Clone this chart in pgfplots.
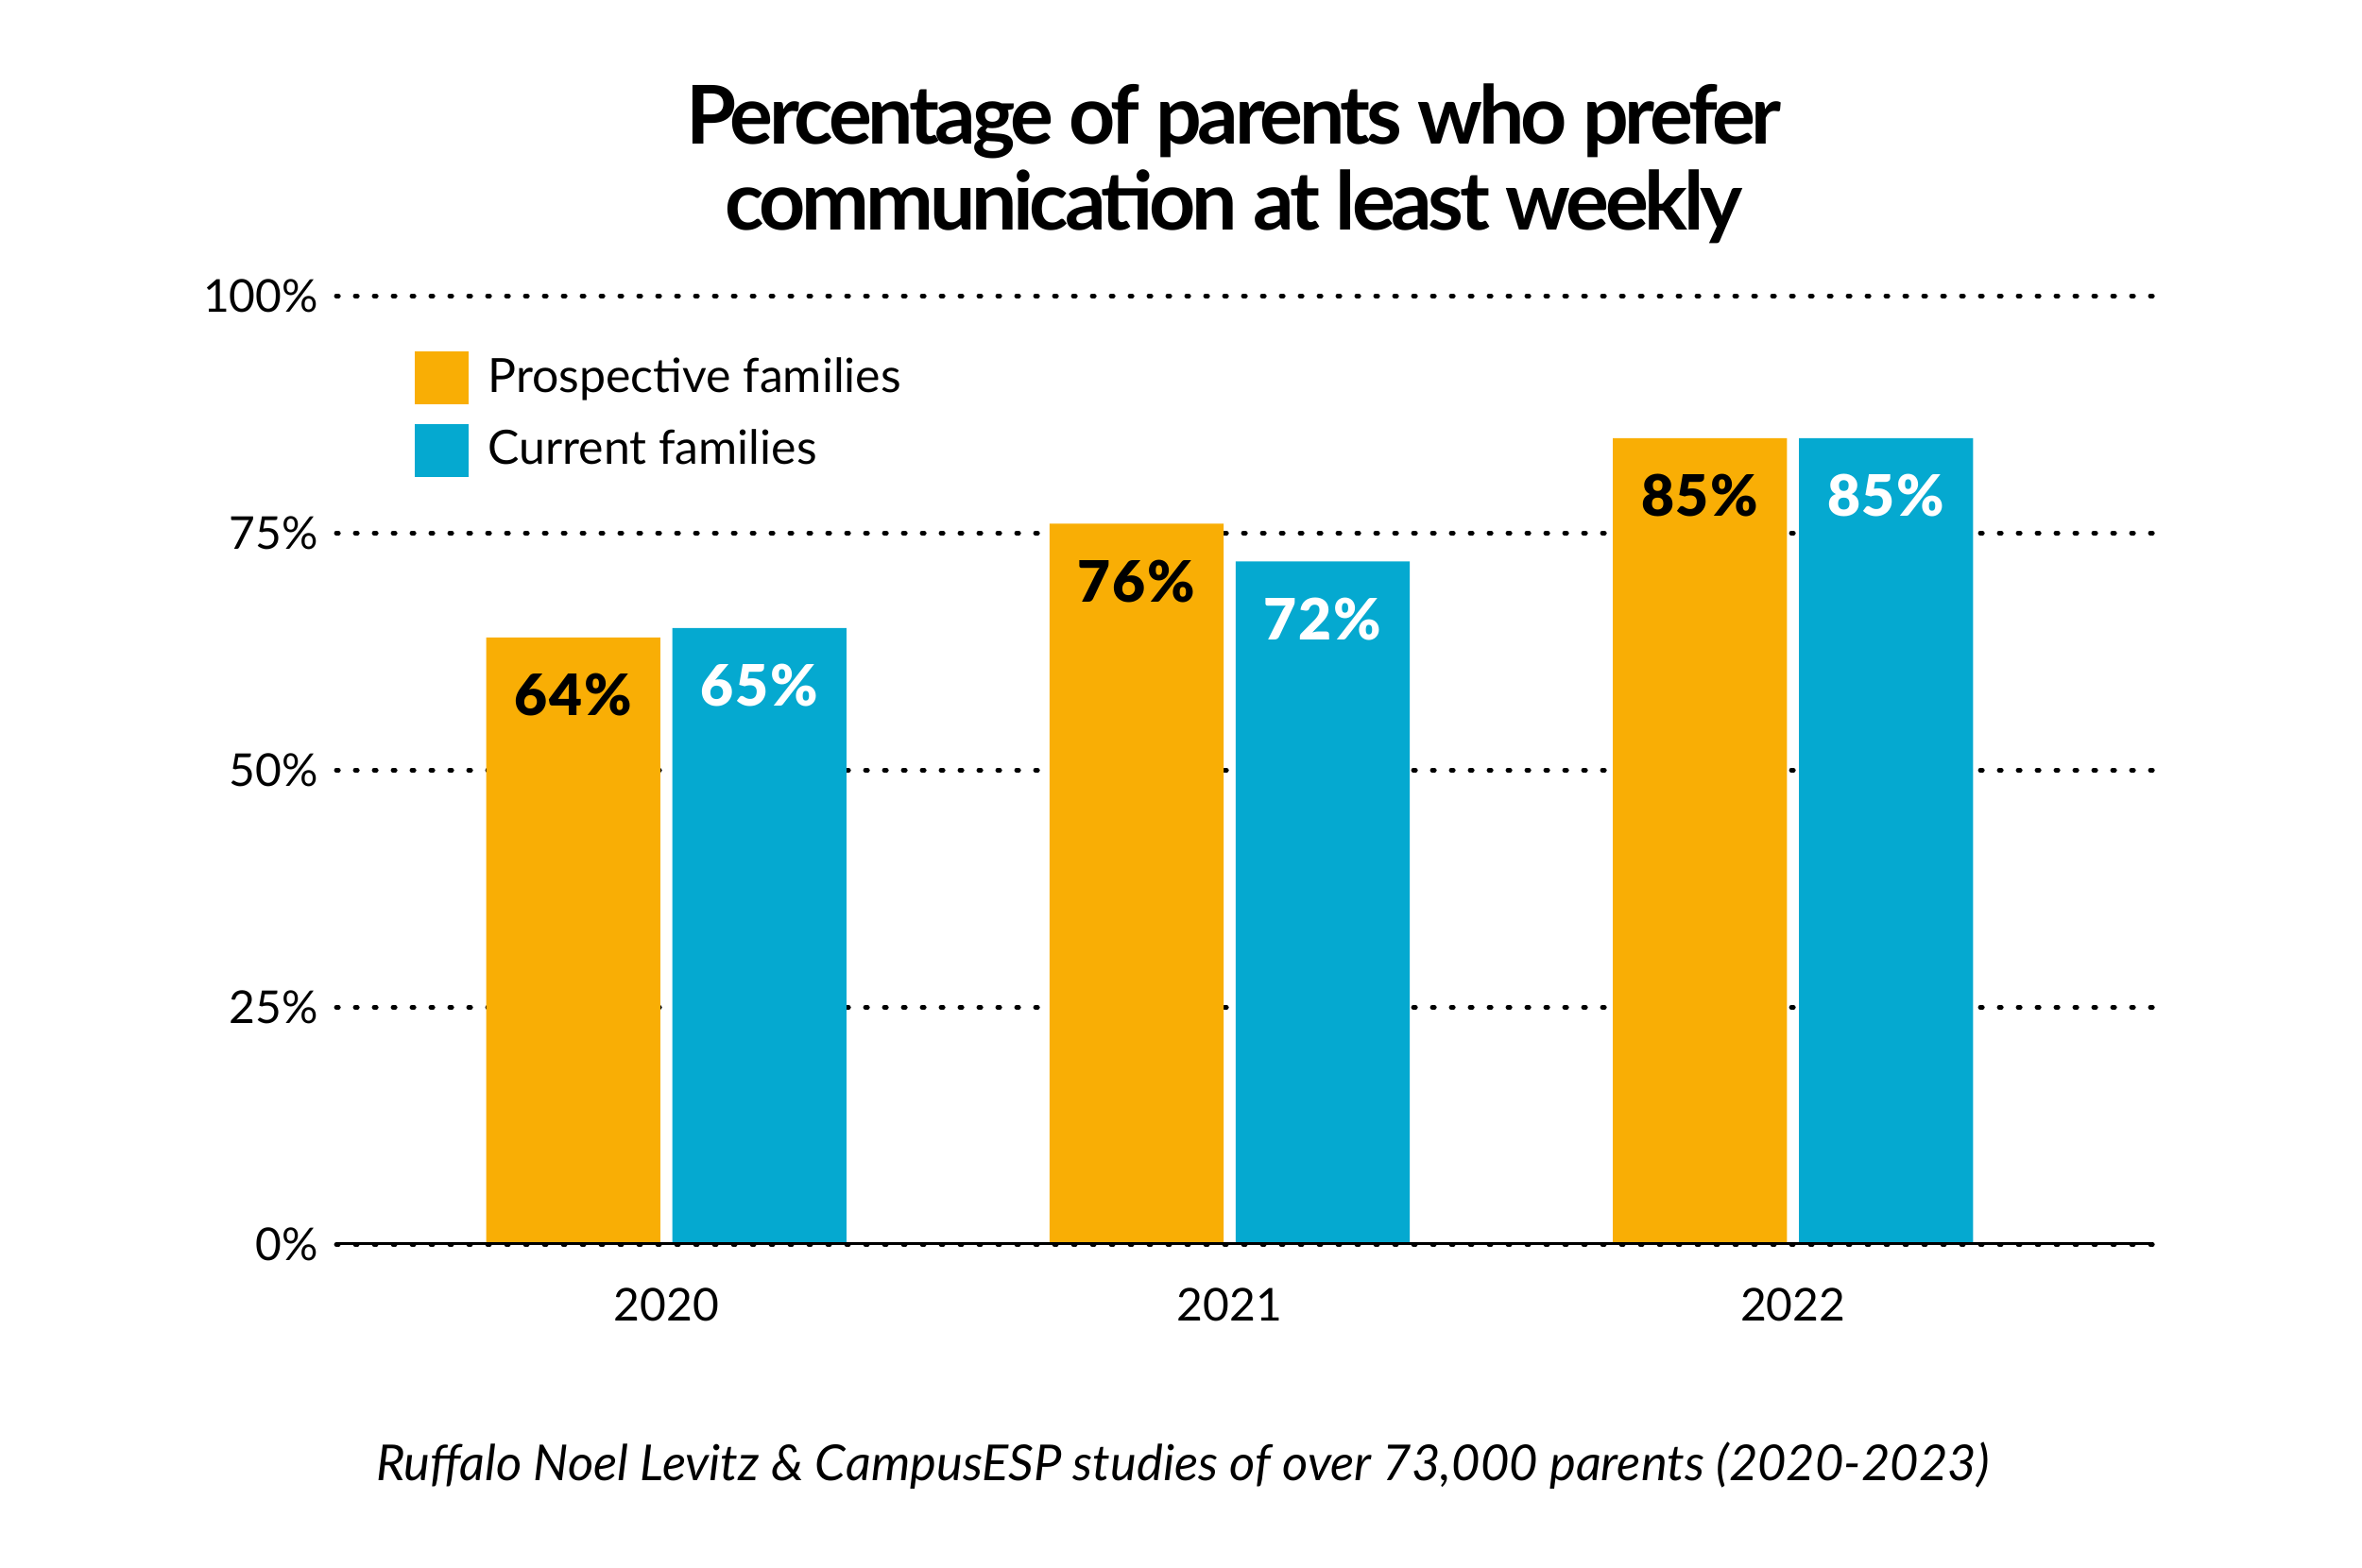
\documentclass[border=0pt]{standalone}
\usepackage{fontspec}
\setmainfont{Lato}
\newfontfamily\titlefont[LetterSpace=-5]{Lato Bold}
\newfontfamily\barfont[LetterSpace=3]{Lato Black}
\usepackage{pgfplots}
\pgfplotsset{compat=1.18}

\definecolor{prosp}{HTML}{F9AE05}
\definecolor{curr}{HTML}{05A9D0}

\begin{document}
\begin{tikzpicture}
% page frame: axis origin sits 85.4pt from the left, 82.2pt from the bottom
\path[use as bounding box] (-85.4pt,-82.2pt) rectangle ++(600pt,398.4pt);

\begin{axis}[
    scale only axis,
    width=461.5pt, height=241pt,
    ybar=3.1pt, bar width=44.2pt,
    xmin=-0.586, xmax=2.639,
    ymin=0, ymax=100,
    xtick={0,1,2},
    xticklabels={2020,2021,2022},
    ytick={0,25,50,75,100},
    yticklabel={\pgfmathprintnumber{\tick}\%},
    /pgf/number format/assume math mode=true,
    major tick length=0pt,
    tick label style={font=\fontsize{11.5}{13}\selectfont},
    xticklabel style={yshift=-7.5pt},
    yticklabel style={xshift=-1pt},
    axis line style={draw=none},
    ymajorgrids,
    grid style={black, line width=1.1pt, line cap=round, dash pattern=on 0.6pt off 4.2pt},
    legend style={at={(0.043,0.944)}, anchor=north west, draw=none, fill=none,
        inner sep=0pt, row sep=4pt, font=\fontsize{12}{13.5}\selectfont,
        cells={anchor=west},
        /tikz/every odd column/.style={column sep=3pt}},
    legend image code/.code={\fill[#1] (0pt,-6.75pt) rectangle (13.5pt,6.75pt);},
    nodes near coords={\pgfmathprintnumber{\pgfplotspointmeta}\%},
    every node near coord/.append style={anchor=center, yshift=-14.6pt,
        font=\barfont\fontsize{14.5}{16}\selectfont},
]
\addplot[fill=prosp, draw=none, nodes near coords style={text=black}]
    coordinates {(0,64) (1,76) (2,85)};
\addplot[fill=curr, draw=none, nodes near coords style={text=white}]
    coordinates {(0,65) (1,72) (2,85)};
\legend{Prospective families, Current families}
\draw[line width=1pt] (axis cs:-0.586,0) -- (axis cs:2.639,0);
\end{axis}

% title: anchor=base is the baseline of the last line
\node[font=\titlefont\fontsize{20.6}{22}\selectfont, align=center, anchor=base]
    at (228pt,257.7pt) {Percentage of parents who prefer\\communication at least weekly};
\node[font=\itshape\fontsize{12.6}{14}\selectfont, anchor=base]
    at (215pt,-59.9pt) {Ruffalo Noel Levitz \& CampusESP studies of over 73,000 parents (2020-2023)};
\end{tikzpicture}
\end{document}
